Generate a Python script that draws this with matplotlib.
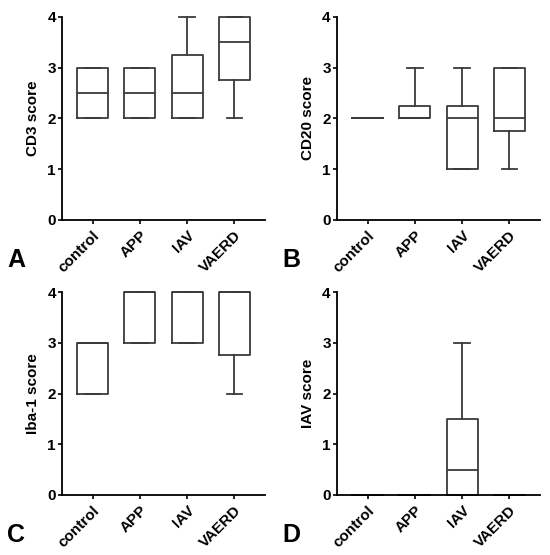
import matplotlib
matplotlib.use("Agg")
import matplotlib.pyplot as plt

plt.rcParams['font.family'] = ['Liberation Sans', 'DejaVu Sans']
plt.rcParams['font.weight'] = 'bold'

categories = ["control", "APP", "IAV", "VAERD"]

# Panel A: CD3 score
cd3_q1 = [2, 2, 2, 2.75]
cd3_med = [2.5, 2.5, 2.5, 3.5]
cd3_q3 = [3, 3, 3.25, 4]
cd3_lo = [2, 2, 2, 2]
cd3_hi = [3, 3, 4, 4]

# Panel B: CD20 score
cd20_q1 = [2, 2, 1, 1.75]
cd20_med = [2, 2, 2, 2]
cd20_q3 = [2, 2.25, 2.25, 3]
cd20_lo = [2, 2, 1, 1]
cd20_hi = [2, 3, 3, 3]

# Panel C: Iba-1 score
iba_q1 = [2, 3, 3, 2.75]
iba_med = [3, 4, 4, 4]
iba_q3 = [3, 4, 4, 4]
iba_lo = [2, 3, 3, 2]
iba_hi = [3, 4, 4, 4]

# Panel D: IAV score
iav_q1 = [0, 0, 0, 0]
iav_med = [0, 0, 0.5, 0]
iav_q3 = [0, 0, 1.5, 0]
iav_lo = [0, 0, 0, 0]
iav_hi = [0, 0, 3, 0]

panels = [
    ("A", "CD3 score", cd3_q1, cd3_med, cd3_q3, cd3_lo, cd3_hi),
    ("B", "CD20 score", cd20_q1, cd20_med, cd20_q3, cd20_lo, cd20_hi),
    ("C", "Iba-1 score", iba_q1, iba_med, iba_q3, iba_lo, iba_hi),
    ("D", "IAV score", iav_q1, iav_med, iav_q3, iav_lo, iav_hi),
]

fig = plt.figure(figsize=(5.5, 5.55), dpi=100)
W, H = 550, 555
positions_px = [(62, 17), (337, 17), (62, 292), (337, 292)]
ax_w, ax_h = 203, 203
box_color = "#3a3a3a"

for (letter, ylabel, q1, med, q3, lo, hi), (px, py) in zip(panels, positions_px):
    ax = fig.add_axes([px / W, 1 - (py + ax_h) / H, ax_w / W, ax_h / H])
    stats = []
    for i, c in enumerate(categories):
        stats.append(dict(q1=q1[i], med=med[i], q3=q3[i], whislo=lo[i], whishi=hi[i],
                          fliers=[], label=c))
    lw = 1.3
    arts = ax.bxp(stats, positions=range(len(categories)), widths=0.66,
                  showfliers=False, patch_artist=False,
                  boxprops=dict(color=box_color, linewidth=lw),
                  whiskerprops=dict(color=box_color, linewidth=lw),
                  capprops=dict(color=box_color, linewidth=lw),
                  medianprops=dict(color=box_color, linewidth=lw))
    for key in arts:
        for a in arts[key]:
            a.set_clip_on(False)
    ax.set_xlim(-0.65, 3.65)
    ax.set_ylim(0, 4)
    ax.set_yticks([0, 1, 2, 3, 4])
    ax.set_xticks(range(len(categories)))
    ax.set_xticklabels(categories, rotation=45, ha="right", rotation_mode="anchor",
                       fontsize=11, fontweight="bold")
    ax.tick_params(axis="y", labelsize=11, length=3, width=1.2, pad=1.5)
    ax.tick_params(axis="x", length=3, width=1.2, pad=3)
    for lab in ax.get_yticklabels():
        lab.set_fontweight("bold")
    ax.set_ylabel(ylabel, fontsize=11, fontweight="bold", labelpad=5)
    ax.spines["top"].set_visible(False)
    ax.spines["right"].set_visible(False)
    ax.spines["left"].set_linewidth(1.3)
    ax.spines["bottom"].set_linewidth(1.3)
    fig.text((px - 55) / W, 1 - (py + 255) / H, letter, fontsize=18, fontweight="bold",
             ha="left", va="bottom")

fig.savefig("out.png", dpi=100)
